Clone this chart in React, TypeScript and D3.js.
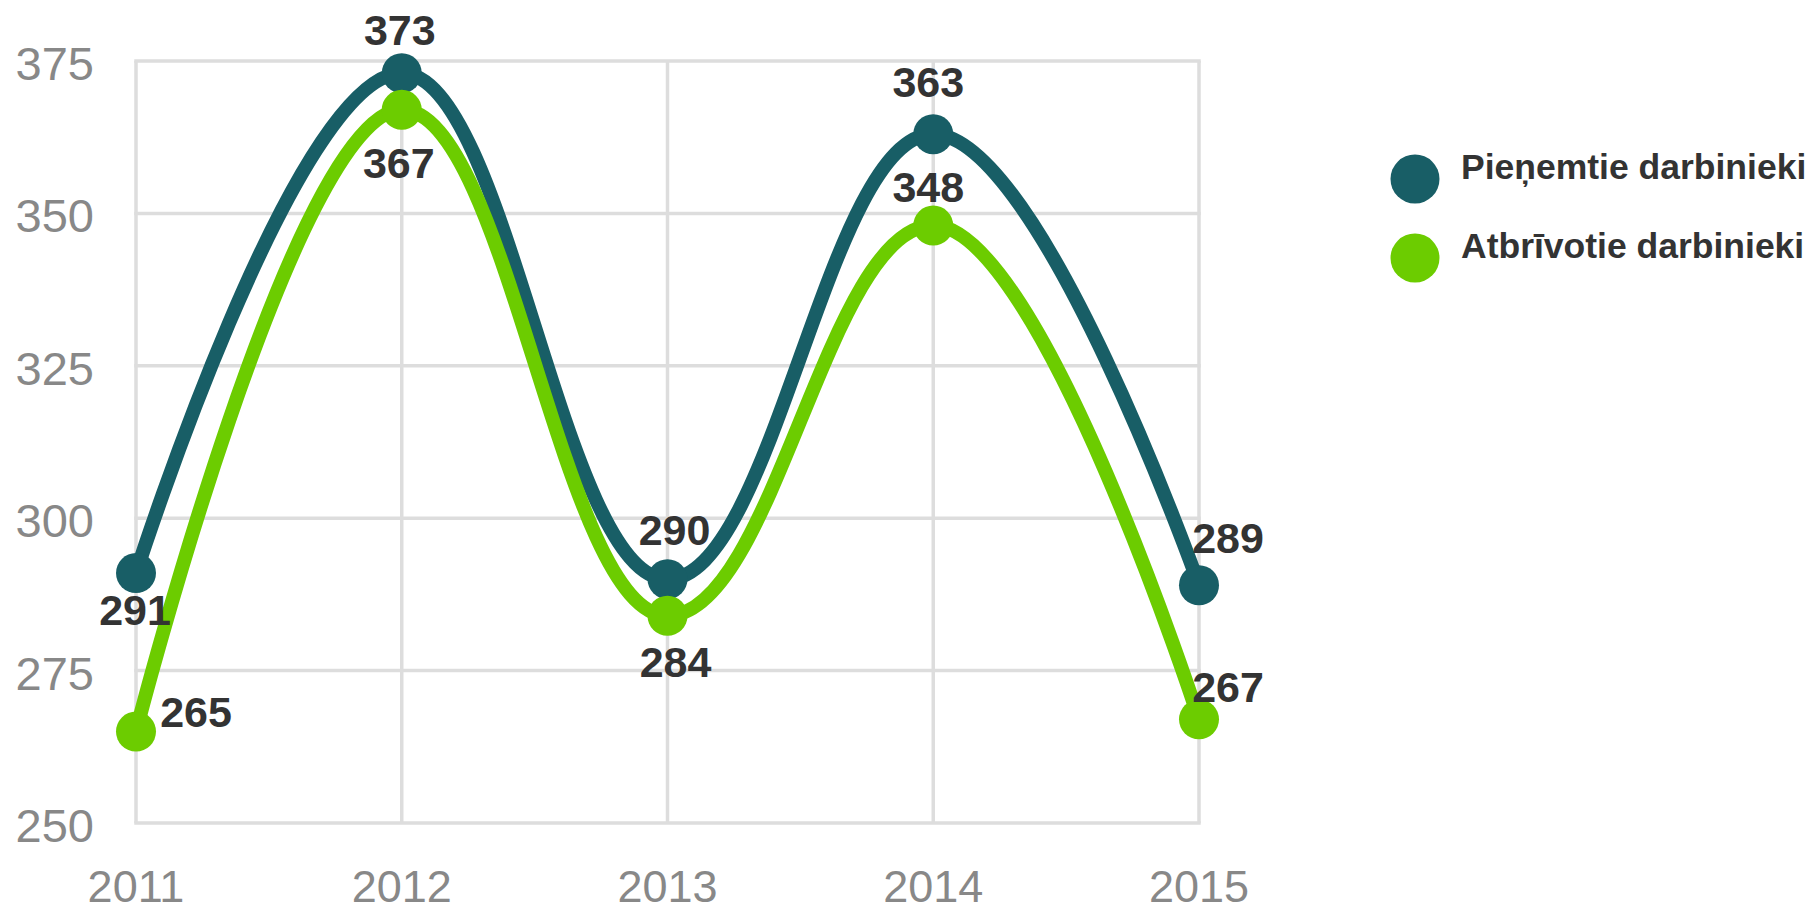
import { scaleLinear, scalePoint, path as d3_path } from "d3";

const years = ["2011", "2012", "2013", "2014", "2015"];
const hired = [291, 373, 290, 363, 289];
const released = [265, 367, 284, 348, 267];
const yTicks = [250, 275, 300, 325, 350, 375];
const seriesNames = ["Pieņemtie darbinieki", "Atbrīvotie darbinieki"];

// label placement per point: [dx, dy of baseline from marker centre]
const hiredLabelOffsets = [
  [-1, 52],
  [-2, -28],
  [7, -34],
  [-5, -37],
  [29, -32],
];
const releasedLabelOffsets = [
  [60, -5],
  [-3, 68],
  [8, 61],
  [-5, -24],
  [29, -17],
];

const W = 1816;
const H = 913;
const FONT = "'Liberation Sans', Arial, Helvetica, sans-serif";
const colors = ["#185e66", "#6ccc00"];

// spline like Highcharts: control points pulled 1/2.5 towards neighbours,
// flattened at local extremes
function splinePath(pts: [number, number][]) {
  const p = d3_path();
  const sm = 1.5;
  const den = sm + 1;
  const left: ([number, number] | null)[] = [];
  const right: ([number, number] | null)[] = [];
  pts.forEach(([x, y], i) => {
    if (i === 0 || i === pts.length - 1) {
      left.push(null);
      right.push(null);
      return;
    }
    const [lx, ly] = pts[i - 1];
    const [nx, ny] = pts[i + 1];
    const lcx = (sm * x + lx) / den;
    let lcy = (sm * y + ly) / den;
    const rcx = (sm * x + nx) / den;
    let rcy = (sm * y + ny) / den;
    let corr = 0;
    if (rcx !== lcx) corr = ((rcy - lcy) * (rcx - x)) / (rcx - lcx) + y - rcy;
    lcy += corr;
    rcy += corr;
    if (lcy > ly && lcy > y) {
      lcy = Math.max(ly, y);
      rcy = 2 * y - lcy;
    } else if (lcy < ly && lcy < y) {
      lcy = Math.min(ly, y);
      rcy = 2 * y - lcy;
    }
    if (rcy > ny && rcy > y) {
      rcy = Math.max(ny, y);
      lcy = 2 * y - rcy;
    } else if (rcy < ny && rcy < y) {
      rcy = Math.min(ny, y);
      lcy = 2 * y - rcy;
    }
    left.push([lcx, lcy]);
    right.push([rcx, rcy]);
  });
  pts.forEach(([x, y], i) => {
    if (i === 0) {
      p.moveTo(x, y);
      return;
    }
    const c1 = right[i - 1] ?? pts[i - 1];
    const c2 = left[i] ?? pts[i];
    p.bezierCurveTo(c1[0], c1[1], c2[0], c2[1], x, y);
  });
  return p.toString();
}

export default function App() {
  const x = scalePoint<string>().domain(years).range([136, 1199]);
  const y = scaleLinear().domain([250, 375]).range([823, 61]);

  const series = [
    { values: hired, offsets: hiredLabelOffsets, color: colors[0] },
    { values: released, offsets: releasedLabelOffsets, color: colors[1] },
  ];

  return (
    <div style={{ position: "fixed", left: 0, top: 0, width: W, height: H, background: "#fff" }}>
      <svg width={W} height={H} style={{ display: "block", fontFamily: FONT }}>
        {/* Grid */}
        <g stroke="#dddddd" strokeWidth={3.5} fill="none">
          {yTicks.map((t) => (
            <line key={t} x1={x(years[0])! - 1.75} x2={x(years[years.length - 1])! + 1.75} y1={y(t)} y2={y(t)} />
          ))}
          {years.map((yr) => (
            <line key={yr} x1={x(yr)} x2={x(yr)} y1={y(375)} y2={y(250)} />
          ))}
        </g>

        {/* Y axis labels */}
        {yTicks.map((t) => (
          <text key={t} x={94} y={y(t) + 19} textAnchor="end" fontSize={47} fill="#888888">
            {t}
          </text>
        ))}

        {/* X axis labels */}
        {years.map((yr) => (
          <text key={yr} x={x(yr)} y={902} textAnchor="middle" fontSize={45} fill="#888888">
            {yr}
          </text>
        ))}

        {/* Series */}
        {series.map((s, si) => {
          const pts = s.values.map((v, i) => [x(years[i])!, y(v)] as [number, number]);
          return (
            <g key={si}>
              <path
                d={splinePath(pts)}
                fill="none"
                stroke={s.color}
                strokeWidth={14}
                strokeLinecap="round"
                strokeLinejoin="round"
              />
              {pts.map(([px, py], i) => (
                <circle key={i} cx={px} cy={py} r={20} fill={s.color} />
              ))}
            </g>
          );
        })}

        {/* Data labels */}
        {series.map((s, si) => (
          <g key={si}>
            {s.values.map((v, i) => (
              <text
                key={i}
                x={x(years[i])! + s.offsets[i][0]}
                y={y(v) + s.offsets[i][1]}
                textAnchor="middle"
                fontSize={43}
                fontWeight="bold"
                fill="#333333"
              >
                {v}
              </text>
            ))}
          </g>
        ))}

        {/* Legend */}
        {seriesNames.map((name, i) => (
          <g key={name} transform={`translate(1415,${179 + i * 79})`}>
            <circle r={24.5} fill={colors[i]} />
            <text x={46} y={0} fontSize={35.5} fontWeight="bold" fill="#333333">
              {name}
            </text>
          </g>
        ))}
      </svg>
    </div>
  );
}
